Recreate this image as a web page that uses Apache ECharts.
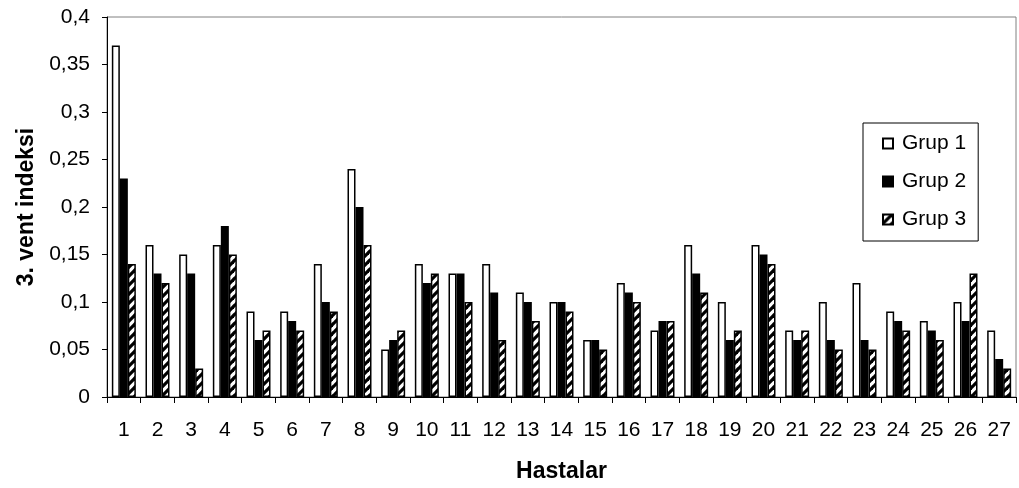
<!DOCTYPE html>
<html>
<head>
<meta charset="utf-8">
<script src="https://cdn.jsdelivr.net/npm/echarts@6/dist/echarts.min.js"></script>
<style>
  html, body { margin: 0; padding: 0; background: #fff; }
  #chart { width: 1019px; height: 488px; }
</style>
</head>
<body>
<div id="chart"></div>
<script>
// Patients 1..27
const hastalar = ['1','2','3','4','5','6','7','8','9','10','11','12','13','14','15','16','17','18','19','20','21','22','23','24','25','26','27'];
const seriesNames = ['Grup 1', 'Grup 2', 'Grup 3'];
// 3rd ventricle index per patient
const grup1 = [0.37,0.16,0.15,0.16,0.09,0.09,0.14,0.24,0.05,0.14,0.13,0.14,0.11,0.10,0.06,0.12,0.07,0.16,0.10,0.16,0.07,0.10,0.12,0.09,0.08,0.10,0.07];
const grup2 = [0.23,0.13,0.13,0.18,0.06,0.08,0.10,0.20,0.06,0.12,0.13,0.11,0.10,0.10,0.06,0.11,0.08,0.13,0.06,0.15,0.06,0.06,0.06,0.08,0.07,0.08,0.04];
const grup3 = [0.14,0.12,0.03,0.15,0.07,0.07,0.09,0.16,0.07,0.13,0.10,0.06,0.08,0.09,0.05,0.10,0.08,0.11,0.07,0.14,0.07,0.05,0.05,0.07,0.06,0.13,0.03];

const FONT = '"Liberation Sans", Arial, sans-serif';

// diagonal hatch tile for the third group
function hatchTile() {
  const P = 9;
  const c = document.createElement('canvas');
  c.width = P; c.height = P;
  const ctx = c.getContext('2d');
  ctx.fillStyle = '#fff';
  ctx.fillRect(0, 0, P, P);
  ctx.strokeStyle = '#000';
  ctx.lineWidth = 3.2;
  ctx.lineCap = 'square';
  for (const k of [0, 1, 2]) {
    ctx.beginPath();
    ctx.moveTo(-P + k * P, P);
    ctx.lineTo(k * P, 0);
    ctx.stroke();
  }
  return c;
}

const chart = echarts.init(document.getElementById('chart'), null, { renderer: 'canvas' });

const barBase = { type: 'bar', barWidth: 8, barGap: '0%', animation: false };

chart.setOption({
  backgroundColor: '#fff',
  grid: {
    left: 107, right: 3, top: 17, bottom: 89,
    show: true, borderColor: '#808080', borderWidth: 1, backgroundColor: 'transparent'
  },
  legend: {
    orient: 'vertical',
    left: 863, top: 123,
    padding: [10, 12, 11, 19],
    itemGap: 17,
    itemWidth: 10, itemHeight: 10,
    icon: 'rect',
    borderColor: '#000', borderWidth: 1, backgroundColor: '#fff',
    textStyle: { fontFamily: FONT, fontSize: 21, color: '#000', padding: [0, 0, 0, 4] },
    data: seriesNames
  },
  xAxis: {
    type: 'category',
    data: hastalar,
    name: 'Hastalar',
    nameLocation: 'middle',
    nameGap: 63,
    nameTextStyle: { fontFamily: FONT, fontSize: 23, fontWeight: 'bold', color: '#000' },
    axisLine: { lineStyle: { color: '#000', width: 1 } },
    axisTick: { show: true, interval: 0, length: 6, lineStyle: { color: '#000' } },
    axisLabel: { interval: 0, margin: 23, fontFamily: FONT, fontSize: 21, color: '#000' },
    splitLine: { show: false }
  },
  yAxis: {
    type: 'value',
    min: 0, max: 0.4, interval: 0.05,
    name: '3. vent indeksi',
    nameLocation: 'middle',
    nameGap: 55,
    nameTextStyle: { fontFamily: FONT, fontSize: 23, fontWeight: 'bold', color: '#000' },
    axisLine: { show: true, lineStyle: { color: '#000', width: 1 } },
    axisTick: { show: true, length: 5, lineStyle: { color: '#000' } },
    axisLabel: {
      margin: 17, fontFamily: FONT, fontSize: 21, color: '#000',
      formatter: v => String(+v.toFixed(2)).replace('.', ',')
    },
    splitLine: { show: false }
  },
  series: [
    Object.assign({}, barBase, {
      name: seriesNames[0], data: grup1,
      itemStyle: { color: '#fff', borderColor: '#000', borderWidth: 1.5 }
    }),
    Object.assign({}, barBase, {
      name: seriesNames[1], data: grup2,
      itemStyle: { color: '#000', borderColor: '#000', borderWidth: 1.5 }
    }),
    Object.assign({}, barBase, {
      name: seriesNames[2], data: grup3,
      itemStyle: { color: { image: hatchTile(), repeat: 'repeat' }, borderColor: '#000', borderWidth: 1.5 }
    })
  ]
});
</script>
</body>
</html>
